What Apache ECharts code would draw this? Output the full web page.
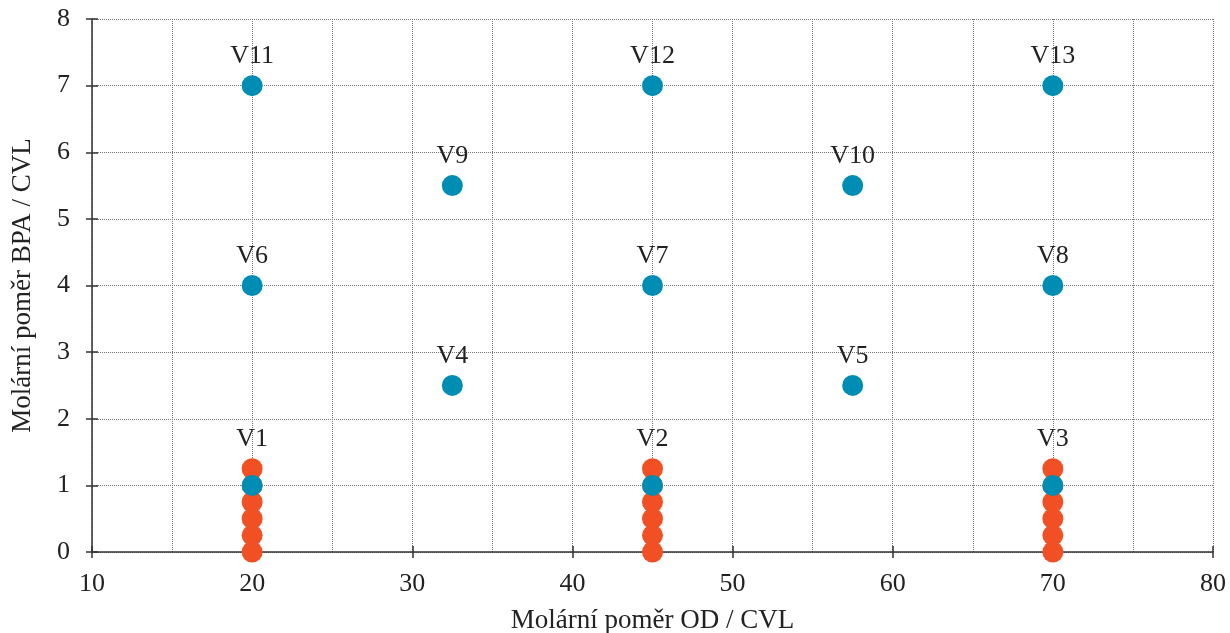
<!DOCTYPE html>
<html>
<head>
<meta charset="utf-8">
<script src="https://cdn.jsdelivr.net/npm/echarts@6/dist/echarts.min.js"></script>
<style>
  html, body { margin: 0; padding: 0; background: #fff; }
  #chart { width: 1230px; height: 633px; }
</style>
</head>
<body>
<div id="chart"></div>
<script>
// blue design points (labelled)
const blueNames = ['V11', 'V12', 'V13', 'V9', 'V10', 'V6', 'V7', 'V8', 'V4', 'V5', '', '', '']
const blueX = [20, 45, 70, 32.5, 57.5, 20, 45, 70, 32.5, 57.5, 20, 45, 70]
const blueY = [7, 7, 7, 5.5, 5.5, 4, 4, 4, 2.5, 2.5, 1, 1, 1]

// orange points stacked in columns at low BPA ratio
const orangeNames = ['V1', '', '', '', '', '', 'V2', '', '', '', '', '', 'V3', '', '', '', '', '']
const orangeX = [20, 20, 20, 20, 20, 20, 45, 45, 45, 45, 45, 45, 70, 70, 70, 70, 70, 70]
const orangeY = [1.25, 1, 0.75, 0.5, 0.25, 0, 1.25, 1, 0.75, 0.5, 0.25, 0, 1.25, 1, 0.75, 0.5, 0.25, 0]

const FONT = 'Liberation Serif'
const blue = '#008db3'
const orange = '#f15024'
const axisColor = '#333'
const gridStyle = { type: 'dotted', color: '#777', width: 1 }

const toData = (xs, ys, names) => xs.map((x, i) => ({ value: [x, ys[i]], name: names[i] }))

const labelStyle = {
    show: true,
    position: 'top',
    distance: 6,
    formatter: p => p.name,
    color: '#222',
    fontFamily: FONT,
    fontSize: 26
}

// second copy of each axis only draws the inner half of the crossing ticks
const innerTicks = {
    type: 'value',
    axisLine: { show: false },
    axisTick: { show: true, inside: true, length: 6, lineStyle: { color: axisColor, width: 1.5 } },
    axisLabel: { show: false },
    splitLine: { show: false }
}

const chart = echarts.init(document.getElementById('chart'))
chart.setOption({
    animation: false,
    grid: { left: 92, right: 17, top: 19, bottom: 81, containLabel: false, outerBoundsMode: 'none' },
    xAxis: [{
        type: 'value',
        min: 10, max: 80, interval: 10,
        name: 'Molární poměr OD / CVL',
        nameLocation: 'middle',
        nameGap: 55,
        nameTextStyle: { fontFamily: FONT, fontSize: 27, color: '#222' },
        axisLine: { show: true, onZero: false, lineStyle: { color: axisColor, width: 1.5 } },
        axisTick: { show: true, length: 6, lineStyle: { color: axisColor, width: 1.5 } },
        axisLabel: { margin: 19, fontFamily: FONT, fontSize: 26, color: '#222' },
        splitLine: { show: true, lineStyle: gridStyle },
        minorTick: { show: false, splitNumber: 2 },
        minorSplitLine: { show: true, lineStyle: gridStyle }
    }, Object.assign({ position: 'bottom', min: 10, max: 80, interval: 10 }, innerTicks)],
    yAxis: [{
        type: 'value',
        min: 0, max: 8, interval: 1,
        name: 'Molární poměr BPA / CVL',
        nameLocation: 'middle',
        nameGap: 56,
        nameTextStyle: { fontFamily: FONT, fontSize: 27, color: '#222' },
        axisLine: { show: true, lineStyle: { color: axisColor, width: 1.5 } },
        axisTick: { show: true, length: 6, lineStyle: { color: axisColor, width: 1.5 } },
        axisLabel: { margin: 22, fontFamily: FONT, fontSize: 26, color: '#222' },
        splitLine: { show: true, lineStyle: gridStyle }
    }, Object.assign({ position: 'left', min: 0, max: 8, interval: 1 }, innerTicks)],
    series: [
        {
            type: 'scatter',
            symbolSize: 21,
            itemStyle: { color: orange, opacity: 1 },
            label: labelStyle,
            data: toData(orangeX, orangeY, orangeNames),
            z: 2
        },
        {
            type: 'scatter',
            symbolSize: 21,
            itemStyle: { color: blue, opacity: 1 },
            label: labelStyle,
            data: toData(blueX, blueY, blueNames),
            z: 3
        }
    ]
})
</script>
</body>
</html>
